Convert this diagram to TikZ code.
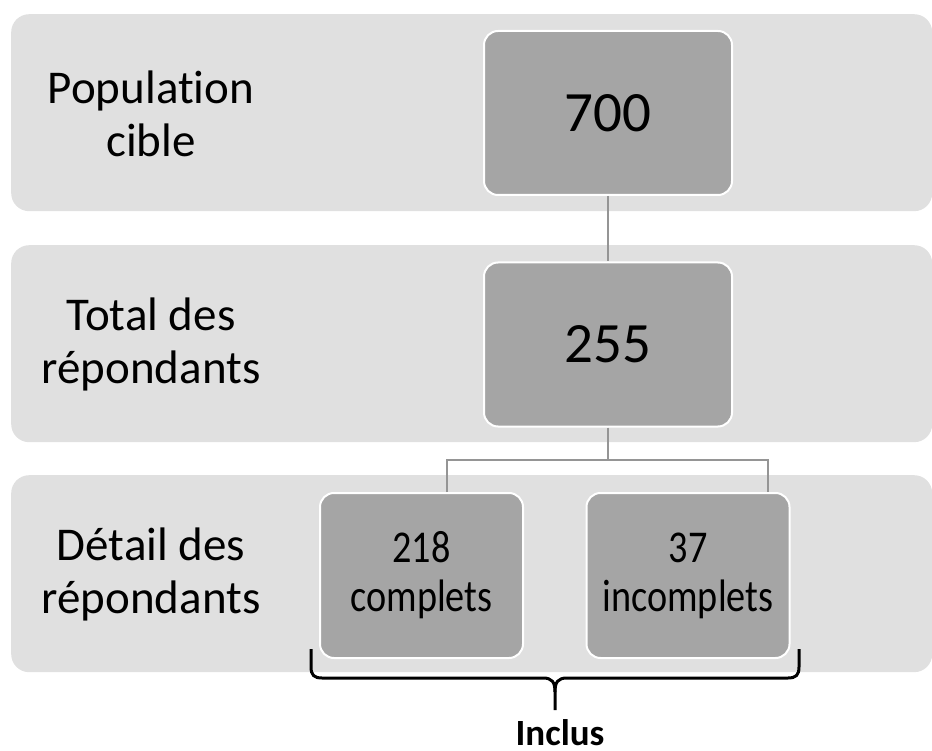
\documentclass[tikz,border=0pt]{standalone}
\usepackage{fontspec}
\setmainfont{Carlito}[Ligatures=NoCommon]
\newfontfamily\narrowfont{Carlito}[FakeStretch=0.84,Ligatures=NoCommon]
\definecolor{bandgray}{HTML}{E0E0E0}
\definecolor{boxgray}{HTML}{A5A5A5}
\definecolor{linkgray}{HTML}{959595}
\tikzset{
  band/.style={fill=bandgray, rounded corners=18pt, minimum width=921pt,
    minimum height=197pt, anchor=north west, inner sep=0pt},
  rowtext/.style={align=center, inner sep=0pt, font=\fontsize{47}{53}\selectfont},
  valbox/.style={fill=boxgray, draw=white, line width=2pt, rounded corners=14pt,
    minimum width=248pt, minimum height=164pt, font=\fontsize{57}{66}\selectfont},
  subbox/.style={valbox, minimum width=203pt, minimum height=165pt, align=center,
    font=\narrowfont\fontsize{45.5}{49}\selectfont},
  link/.style={draw=linkgray, line width=1.8pt},
}
\begin{document}
\begin{tikzpicture}[x=1pt,y=-1pt]
	\useasboundingbox (0,0) rectangle (932,751);
	% the three rows
	\node [band] (band1) at (11,14) {};
	\node [band] (band2) at (11,245) {};
	\node [band] (band3) at (11,475) {};
	\node [rowtext] (lab1) at (151,114) {Population\\cible};
	\node [rowtext] (lab2) at (151,344) {Total des\\répondants};
	\node [rowtext] (lab3) at (151,574) {Détail des\\répondants};
	% the counts
	\node [valbox] (v700) at (608,113) {700};
	\node [valbox] (v255) at (608,344.5) {255};
	\node [subbox] (v218) at (421.5,575.5) {218\\complets};
	\node [subbox] (v37) at (688,575.5) {37\\incomplets};
	% links
	\coordinate (split) at (608,460);
	\coordinate (drop218) at (447,460);
	\coordinate (drop37) at (768,460);
	\draw [link] (v700.south) -- (v255.north);
	\draw [link] (v255.south) -- (split);
	\draw [link] (drop218 |- v218.north) -- (drop218) -- (drop37) -- (drop37 |- v37.north);
	% brace
	\draw [line width=3pt] (311,649) -- (311,667) .. controls (311,675) and (314,678) .. (322,678)
		-- (543,678) .. controls (552,678) and (555,682) .. (555,692) -- (555,710);
	\draw [line width=3pt] (555,692) .. controls (555,682) and (558,678) .. (567,678)
		-- (788,678) .. controls (796,678) and (799,675) .. (799,667) -- (799,649);
	\node [font=\bfseries\fontsize{37}{40}\selectfont, anchor=base, inner sep=0pt] (incl) at (560,745) {Inclus};
\end{tikzpicture}
\end{document}
